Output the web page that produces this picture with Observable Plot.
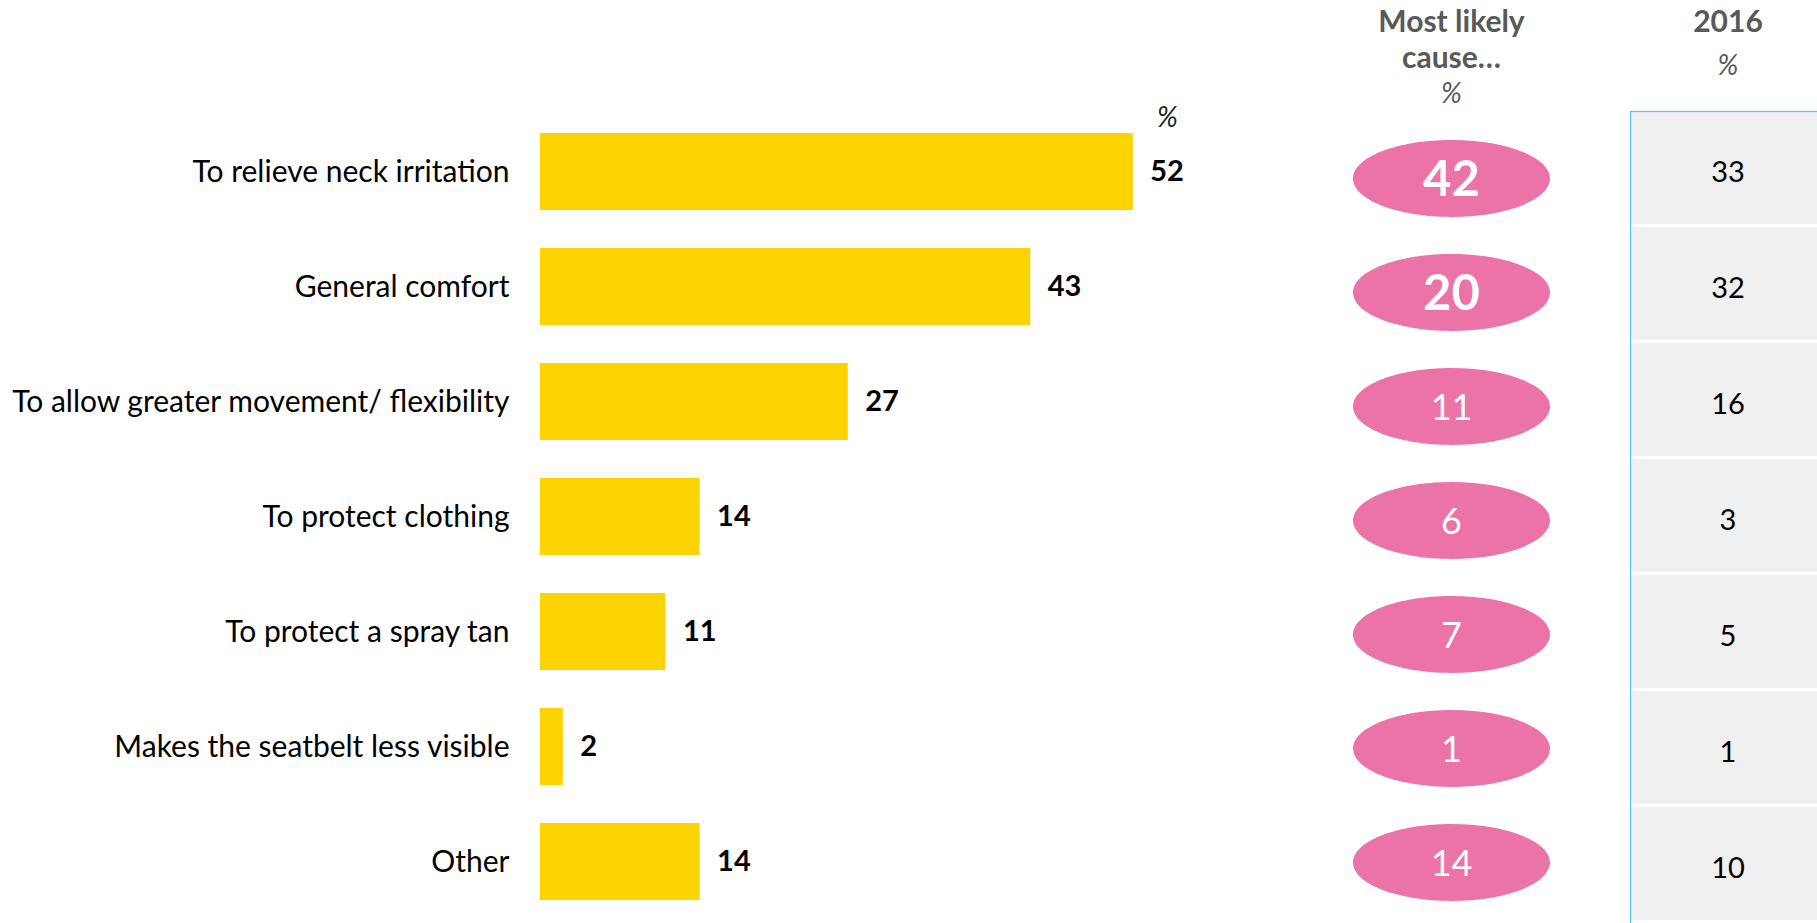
<!DOCTYPE html>
<html>
<head>
<meta charset="utf-8">
<script src="https://cdn.jsdelivr.net/npm/d3@7"></script>
<script src="https://cdn.jsdelivr.net/npm/@observablehq/plot@0.6"></script>
<style>
  html, body { margin: 0; padding: 0; background: #fff; overflow: hidden; }
  #wrap { position: relative; width: 1817px; height: 923px; overflow: hidden; font-family: Lato, "Open Sans", sans-serif; }
  #wrap > div { position: absolute; top: 0; }
  #wrap svg { overflow: visible; max-width: none !important; display: block; }
</style>
</head>
<body>
<div id="wrap">
  <div id="bars" style="left:0px;width:1300px"></div>
  <div id="likely" style="left:1321px;width:260px"></div>
  <div id="past" style="left:1629px;width:196px"></div>
</div>
<script>
// ---- data ----
const categories = [
  "To relieve neck irritation",
  "General comfort",
  "To allow greater movement/ flexibility",
  "To protect clothing",
  "To protect a spray tan",
  "Makes the seatbelt less visible",
  "Other"
];
const reasons = [52, 43, 27, 14, 11, 2, 14];
const mostLikely = [42, 20, 11, 6, 7, 1, 14];
const year2016 = [33, 32, 16, 3, 5, 1, 10];
const likelyHeader = ["Most likely", "cause…"];
const pastHeader = ["2016"];
const unitLabel = "%";

const rows = categories.map((cat, i) => ({
  cat, i, reason: reasons[i], likely: mostLikely[i], past: year2016[i]
}));

const YELLOW = "#FDD402";
const PINK = "#EC73A7";
const GREY_TEXT = "#595959";
const FONT = "Lato, 'Open Sans', sans-serif";

// ---- bar chart ----
const bars = Plot.plot({
  width: 1300, height: 923,
  marginLeft: 540, marginRight: 76, marginTop: 111, marginBottom: 0,
  x: {domain: [0, 60], axis: null},
  y: {type: "band", domain: categories, padding: 0, range: [111, 921], axis: null},
  style: {fontFamily: FONT, fontSize: "30px", color: "black", background: "transparent", overflow: "visible"},
  marks: [
    Plot.barX(rows, {x: "reason", y: "cat", fill: YELLOW, insetTop: 19, insetBottom: 19}),
    Plot.text(rows, {x: "reason", y: "cat", text: d => String(d.reason), dx: 17, textAnchor: "start",
      fontWeight: "bold", fontSize: 29, fill: "black"}),
    Plot.text(rows.slice(0, 1), {x: "reason", y: "cat", text: () => unitLabel, dx: 34, dy: -54,
      fontStyle: "italic", fontSize: 28, fill: "#222"}),
    Plot.axisY({tickSize: 0, tickPadding: 31, fontSize: 30, label: null, fill: "black"})
  ]
});
document.getElementById("bars").appendChild(bars);

// ---- ellipse column ----
const ellipseSymbol = {
  draw(ctx, size) {
    const r = Math.sqrt(size / Math.PI);
    const rx = r, ry = r * 0.39, k = 0.5523;
    ctx.moveTo(rx, 0);
    ctx.bezierCurveTo(rx, ry * k, rx * k, ry, 0, ry);
    ctx.bezierCurveTo(-rx * k, ry, -rx, ry * k, -rx, 0);
    ctx.bezierCurveTo(-rx, -ry * k, -rx * k, -ry, 0, -ry);
    ctx.bezierCurveTo(rx * k, -ry, rx, -ry * k, rx, 0);
    ctx.closePath();
  }
};

const likely = Plot.plot({
  width: 260, height: 923,
  marginLeft: 0, marginRight: 0, marginTop: 0, marginBottom: 0,
  y: {type: "band", domain: categories, padding: 0, range: [121, 919], axis: null},
  style: {fontFamily: FONT, background: "transparent", overflow: "visible"},
  marks: [
    Plot.dot(rows, {y: "cat", r: 98.5, symbol: ellipseSymbol, fill: PINK, stroke: null, frameAnchor: "middle"}),
    Plot.text(rows.filter(d => d.i < 2), {y: "cat", text: d => String(d.likely), frameAnchor: "middle",
      lineAnchor: "middle", fill: "white", fontWeight: "bold", fontSize: 49, dy: 2}),
    Plot.text(rows.filter(d => d.i >= 2), {y: "cat", text: d => String(d.likely), frameAnchor: "middle",
      lineAnchor: "middle", fill: "white", fontSize: 36, dy: 2}),
    Plot.text([likelyHeader[0]], {frameAnchor: "top", lineAnchor: "middle", dy: 22, fontWeight: "bold", fontSize: 30, fill: GREY_TEXT}),
    Plot.text([likelyHeader[1]], {frameAnchor: "top", lineAnchor: "middle", dy: 58, fontWeight: "bold", fontSize: 30, fill: GREY_TEXT}),
    Plot.text([unitLabel], {frameAnchor: "top", lineAnchor: "middle", dy: 94, fontStyle: "italic", fontSize: 28, fill: GREY_TEXT})
  ]
});
document.getElementById("likely").appendChild(likely);

// ---- 2016 table ----
const past = Plot.plot({
  width: 196, height: 935,
  marginLeft: 1, marginRight: 0, marginTop: 111, marginBottom: 0,
  y: {type: "band", domain: categories, padding: 0, range: [111, 923], axis: null},
  style: {fontFamily: FONT, background: "transparent", overflow: "visible"},
  marks: [
    Plot.cell(rows, {y: "cat", fill: "#F0F0F0", insetTop: 0, insetBottom: 3, insetLeft: 0, insetRight: 0}),
    Plot.frame({stroke: "#5EC0EA", strokeWidth: 1.2}),
    Plot.text(rows, {y: "cat", text: d => String(d.past), frameAnchor: "middle", lineAnchor: "middle",
      fontSize: 29, fill: "black", dy: 3}),
    Plot.text(pastHeader, {frameAnchor: "top", lineAnchor: "middle", dy: -89, fontWeight: "bold", fontSize: 30, fill: GREY_TEXT}),
    Plot.text([unitLabel], {frameAnchor: "top", lineAnchor: "middle", dy: -45, fontStyle: "italic", fontSize: 28, fill: GREY_TEXT})
  ]
});
document.getElementById("past").appendChild(past);
</script>
</body>
</html>
